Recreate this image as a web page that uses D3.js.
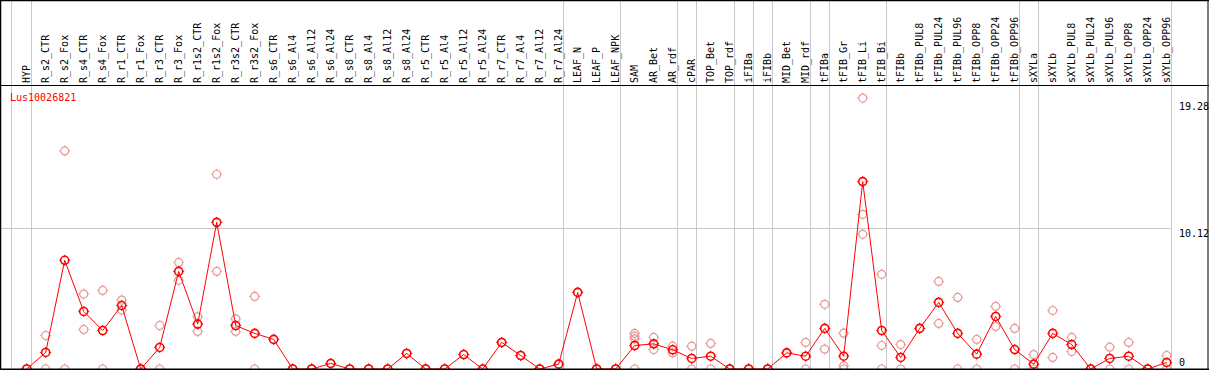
<!DOCTYPE html>
<html>
<head>
<meta charset="utf-8">
<script src="https://cdn.jsdelivr.net/npm/d3@7"></script>
<style>
  html, body { margin: 0; padding: 0; background: #fff; }
  svg { display: block; }
  text { font-family: "DejaVu Sans Mono", monospace; font-size: 10px; }
</style>
</head>
<body>
<svg id="chart" width="1209" height="370"></svg>
<script>
const title = "Lus10026821";
const categories = ["HYP","R_s2_CTR","R_s2_Fox","R_s4_CTR","R_s4_Fox","R_r1_CTR","R_r1_Fox","R_r3_CTR","R_r3_Fox","R_r1s2_CTR","R_r1s2_Fox","R_r3s2_CTR","R_r3s2_Fox","R_s6_CTR","R_s6_Al4","R_s6_Al12","R_s6_Al24","R_s8_CTR","R_s8_Al4","R_s8_Al12","R_s8_Al24","R_r5_CTR","R_r5_Al4","R_r5_Al12","R_r5_Al24","R_r7_CTR","R_r7_Al4","R_r7_Al12","R_r7_Al24","LEAF_N","LEAF_P","LEAF_NPK","SAM","AR_Bet","AR_rdf","cPAR","TOP_Bet","TOP_rdf","iFIBa","iFIBb","MID_Bet","MID_rdf","tFIBa","tFIB_Gr","tFIB_Li","tFIB_Bi","tFIBb","tFIBb_PUL8","tFIBb_PUL24","tFIBb_PUL96","tFIBb_OPP8","tFIBb_OPP24","tFIBb_OPP96","sXYLa","sXYLb","sXYLb_PUL8","sXYLb_PUL24","sXYLb_PUL96","sXYLb_OPP8","sXYLb_OPP24","sXYLb_OPP96"];
const means = [0,1.19,7.82,4.14,2.77,4.57,0,1.55,7.02,3.23,10.55,3.13,2.56,2.13,0,0,0.40,0,0,0,1.12,0,0,1.04,0,1.91,0.97,0,0.35,5.51,0,0,1.69,1.81,1.38,0.76,0.92,0,0,0,1.16,0.92,2.92,0.92,13.48,2.77,0.83,2.92,4.79,2.56,1.07,3.78,1.40,0.35,2.56,1.76,0,0.76,0.92,0,0.47];
const replicates = [[0],[2.41,0],[15.69,0],[5.39,2.85],[5.65,0],[4.96,4.24],[0,0],[3.13,0],[7.67,6.38],[3.75,2.70],[14.01,7.02],[3.61,2.70],[5.22,0],[2.13],[0,0],[0,0],[0.40],[0,0],[0,0],[0,0],[1.12],[0,0],[0,0],[1.04],[0,0],[1.91],[0.97],[0,0],[0.35],[5.51],[0,0],[0,0],[2.56,2.36,2.17,0],[2.27,1.40],[1.64,1.16],[1.64,0],[1.84,0],[0,0],[0,0],[0,0],[1.16],[1.91,0],[4.65,1.43],[2.58,0.23,0],[19.49,11.13,9.69],[6.81,1.69,0],[1.76,0],[2.92],[6.30,3.28],[5.15,0],[2.13,0],[4.50,3.06],[2.92,0],[1.04,0],[4.21,0.83],[2.27,1.26],[0,0],[1.57,0],[1.91,0],[0,0],[0.97,0]];
const yTicks = [0, 10.12, 19.28];
const gridValues = [10.12];
// indices of last category in each group (separator after it)
const groupEnds = [0,28,31,34,35,37,38,39,41,42,45,52,53,60];

const W = 1209, H = 370;
const headerBottom = 85, plotBottom = 369;
const svg = d3.select("#chart");

const x = d3.scalePoint().domain(categories).range([26.7, 1166.7]);
const y = d3.scaleLinear().domain([0, 19.28]).range([369, 101]);

// separators
const sepX = [x(categories[0]) - x.step() + 3].concat(groupEnds.map(i => x(categories[i]) + 4));
svg.append("g").selectAll("line").data(sepX).join("line")
  .attr("x1", d => Math.round(d) + 0.5).attr("x2", d => Math.round(d) + 0.5)
  .attr("y1", 0).attr("y2", plotBottom)
  .attr("stroke", "#c8c8c8").attr("stroke-width", 1);

// horizontal grid
svg.append("g").selectAll("line").data(gridValues).join("line")
  .attr("x1", 0).attr("x2", sepX[sepX.length - 1])
  .attr("y1", d => Math.round(y(d)) + 0.5).attr("y2", d => Math.round(y(d)) + 0.5)
  .attr("stroke", "#c8c8c8").attr("stroke-width", 1);

// header labels
svg.append("g").selectAll("text").data(categories).join("text")
  .attr("transform", d => `translate(${x(d) + 3.5},83) rotate(-90)`)
  .attr("text-anchor", "start")
  .attr("fill", "#000")
  .text(d => d);

// y tick labels
svg.append("g").selectAll("text").data(yTicks).join("text")
  .attr("x", 1179)
  .attr("y", d => Math.min(y(d) + 8.5, 366))
  .attr("fill", "#000")
  .text(d => d === 0 ? "0" : d.toFixed(2));

// title
svg.append("text").attr("x", 10).attr("y", 101).attr("fill", "#ff0000").text(title);

function marker(g, r, color, sw) {
  g.append("circle").attr("r", r).attr("fill", "none").attr("stroke", color).attr("stroke-width", sw);
  const t = r + 1.5;
  [[0,-r,0,-t],[0,r,0,t],[-r,0,-t,0],[r,0,t,0]].forEach(c => {
    g.append("line").attr("x1", c[0]).attr("y1", c[1]).attr("x2", c[2]).attr("y2", c[3])
      .attr("stroke", color).attr("stroke-width", 1);
  });
}

// replicate points
const repData = [];
replicates.forEach((arr, i) => arr.forEach(v => repData.push({cat: categories[i], v})));
svg.append("g").selectAll("g").data(repData).join("g")
  .attr("transform", d => `translate(${x(d.cat)},${y(d.v)})`)
  .each(function() { marker(d3.select(this), 4, "#e89a9a", 1.2); });

// mean line
const meanData = categories.map((c, i) => ({cat: c, v: means[i]}));
svg.append("path").datum(meanData)
  .attr("fill", "none").attr("stroke", "#ff0000").attr("stroke-width", 1)
  .attr("d", d3.line().x(d => x(d.cat)).y(d => y(d.v)));

svg.append("g").selectAll("g").data(meanData).join("g")
  .attr("transform", d => `translate(${x(d.cat)},${y(d.v)})`)
  .each(function() { marker(d3.select(this), 4, "#ff0000", 1.6); });

// frame
svg.append("line").attr("x1", 0).attr("x2", W).attr("y1", 0.5).attr("y2", 0.5).attr("stroke", "#000").attr("stroke-width", 1.5);
svg.append("line").attr("x1", 0).attr("x2", W).attr("y1", headerBottom + 0.5).attr("y2", headerBottom + 0.5).attr("stroke", "#000").attr("stroke-width", 1);
svg.append("line").attr("x1", 0.5).attr("x2", 0.5).attr("y1", 0).attr("y2", H).attr("stroke", "#000").attr("stroke-width", 1.5);
svg.append("line").attr("x1", 1208).attr("x2", 1208).attr("y1", 0).attr("y2", H).attr("stroke", "#000").attr("stroke-width", 1);
svg.append("line").attr("x1", 0).attr("x2", W).attr("y1", 369.25).attr("y2", 369.25).attr("stroke", "#000").attr("stroke-width", 1.5);
</script>
</body>
</html>
